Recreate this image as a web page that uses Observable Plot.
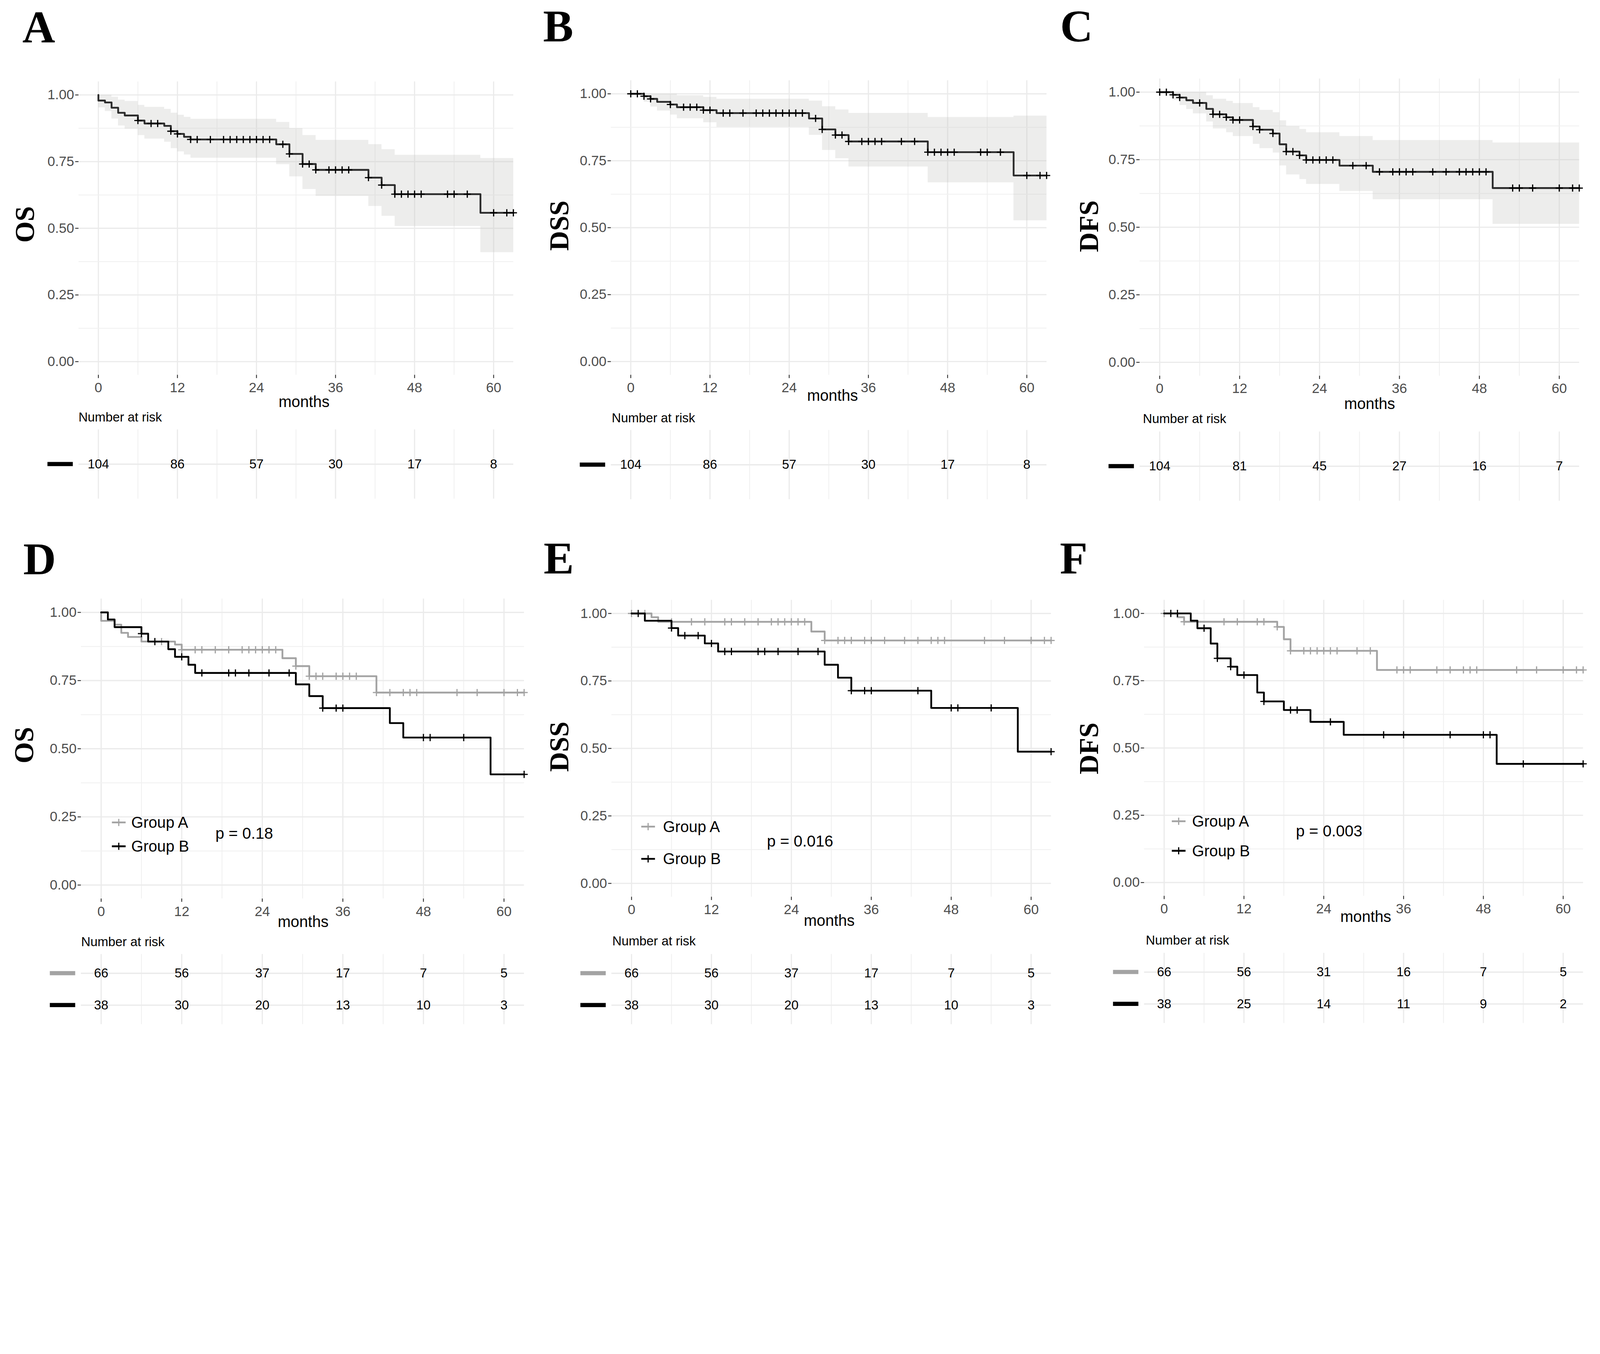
<!DOCTYPE html>
<html><head><meta charset="utf-8">
<script src="https://cdn.jsdelivr.net/npm/d3@7"></script>
<script src="https://cdn.jsdelivr.net/npm/@observablehq/plot@0.6"></script>
<style>
html,body{margin:0;padding:0;background:#fff;overflow:hidden}
#page{position:absolute;left:0;top:0;width:5362px;height:3466px;overflow:hidden;background:#fff;transform-origin:0 0}
#page > svg{position:absolute}
</style>
</head><body><div id="page"></div>
<script>
// ---------------- DATA ----------------
const followUpEnd = 63;
const riskTimes = [0, 12, 24, 36, 48, 60];
const xTicks = [0, 12, 24, 36, 48, 60];
const xMinor = [6, 18, 30, 42, 54];
const yTicks = [0, 0.25, 0.5, 0.75, 1];
const yMinor = [0.125, 0.375, 0.625, 0.875];

// Panel A: OS, all patients
const osTimes = [0, 1, 2, 3, 4, 6, 7, 10, 11, 12, 13, 14, 27, 29, 31, 33, 41, 43, 45, 58];
const osSurv  = [0.979, 0.972, 0.952, 0.933, 0.923, 0.904, 0.893, 0.884, 0.864, 0.854, 0.843, 0.833, 0.815, 0.779, 0.741, 0.719, 0.690, 0.662, 0.628, 0.558];
const osCensor = [6, 8, 9, 11, 12, 14, 15, 17, 19, 20, 21, 22, 23, 24, 25, 26, 28, 29, 31, 32, 33, 35, 36, 37, 38, 41, 43, 45, 46, 47, 48, 49, 53, 54, 56, 60, 62, 63];
const osUpperT = [0, 2, 3, 4, 6, 7, 10, 11, 12, 13, 14, 27, 29, 31, 33, 41, 43, 45, 58];
const osUpper  = [1.0, 0.993, 0.982, 0.977, 0.962, 0.955, 0.947, 0.933, 0.925, 0.917, 0.910, 0.898, 0.875, 0.849, 0.831, 0.815, 0.796, 0.775, 0.763];
const osLowerT = [0, 1, 2, 3, 4, 6, 7, 10, 11, 12, 13, 14, 27, 29, 31, 33, 41, 43, 45, 58];
const osLower  = [0.953, 0.939, 0.911, 0.885, 0.873, 0.849, 0.836, 0.824, 0.800, 0.788, 0.776, 0.764, 0.740, 0.694, 0.647, 0.621, 0.583, 0.546, 0.508, 0.410];
const osRisk = [104, 86, 57, 30, 17, 8];

// Panel B: DSS, all patients
const dssTimes = [2, 3, 4, 6, 7, 11, 13, 27, 29, 31, 33, 45, 58];
const dssSurv  = [0.991, 0.981, 0.970, 0.960, 0.950, 0.939, 0.928, 0.908, 0.867, 0.846, 0.822, 0.782, 0.695];
const dssCensor = [0, 1, 2, 3, 6, 8, 9, 10, 11, 12, 14, 15, 17, 19, 20, 21, 22, 23, 24, 25, 26, 28, 29, 31, 32, 33, 35, 36, 37, 38, 41, 43, 45, 46, 47, 48, 49, 53, 54, 56, 60, 62, 63];
const dssUpperT = [0, 7, 11, 13, 27, 29, 31, 33, 45, 58];
const dssUpper  = [1.0, 0.994, 0.988, 0.981, 0.974, 0.953, 0.941, 0.928, 0.913, 0.918];
const dssLowerT = [0, 2, 3, 4, 6, 7, 11, 13, 27, 29, 31, 33, 45, 58];
const dssLower  = [1.0, 0.970, 0.952, 0.937, 0.922, 0.908, 0.893, 0.876, 0.846, 0.790, 0.759, 0.728, 0.669, 0.527];
const dssRisk = [104, 86, 57, 30, 17, 8];

// Panel C: DFS, all patients
const dfsTimes = [2, 3, 4, 5, 7, 8, 10, 11, 14, 15, 17, 18, 19, 21, 22, 27, 32, 50];
const dfsSurv  = [0.990, 0.980, 0.970, 0.960, 0.938, 0.918, 0.907, 0.897, 0.873, 0.861, 0.847, 0.807, 0.780, 0.766, 0.749, 0.728, 0.705, 0.645];
const dfsCensor = [0, 1, 2, 3, 6, 8, 9, 10, 11, 12, 14, 15, 17, 19, 20, 21, 22, 23, 24, 25, 26, 29, 31, 33, 35, 36, 37, 38, 41, 43, 45, 46, 47, 48, 49, 53, 54, 56, 60, 62, 63];
const dfsUpperT = [0, 7, 8, 10, 11, 14, 15, 17, 18, 19, 21, 22, 27, 32, 50];
const dfsUpper  = [1.0, 0.988, 0.975, 0.967, 0.959, 0.944, 0.934, 0.925, 0.895, 0.874, 0.863, 0.851, 0.837, 0.822, 0.813];
const dfsLowerT = [0, 2, 3, 4, 5, 7, 8, 10, 11, 14, 15, 17, 18, 19, 21, 22, 27, 32, 50];
const dfsLower  = [1.0, 0.971, 0.952, 0.937, 0.921, 0.891, 0.865, 0.851, 0.837, 0.808, 0.792, 0.776, 0.728, 0.695, 0.678, 0.660, 0.634, 0.603, 0.512];
const dfsRisk = [104, 81, 45, 27, 16, 7];

// Panel D: OS by group
const groups = ["Group A", "Group B"];
const osATimes = [0, 2, 3, 4, 6, 11, 12, 27, 29, 31, 41];
const osASurv  = [0.969, 0.955, 0.925, 0.910, 0.893, 0.882, 0.863, 0.832, 0.803, 0.766, 0.706];
const osACensor = [8, 9, 12, 14, 15, 17, 19, 21, 22, 23, 24, 25, 26, 29, 31, 32, 33, 35, 36, 37, 38, 41, 43, 45, 46, 47, 53, 56, 60, 62, 63];
const osBTimes = [1, 2, 6, 7, 10, 11, 13, 14, 29, 31, 33, 43, 45, 58];
const osBSurv  = [0.974, 0.946, 0.922, 0.893, 0.865, 0.837, 0.808, 0.778, 0.736, 0.693, 0.649, 0.594, 0.541, 0.406];
const osBCensor = [6, 8, 12, 15, 19, 20, 22, 25, 28, 33, 35, 36, 48, 49, 54, 63];
const osARisk = [66, 56, 37, 17, 7, 5];
const osBRisk = [38, 30, 20, 13, 10, 3];

// Panel E: DSS by group
const dssATimes = [3, 4, 27, 29];
const dssASurv  = [0.986, 0.969, 0.933, 0.900];
const dssACensor = [0, 2, 6, 9, 11, 14, 15, 17, 19, 21, 22, 23, 24, 25, 26, 29, 31, 32, 33, 35, 36, 38, 41, 43, 45, 46, 47, 53, 56, 60, 62, 63];
const dssBTimes = [2, 6, 7, 11, 13, 29, 31, 33, 45, 58];
const dssBSurv  = [0.973, 0.946, 0.918, 0.889, 0.859, 0.810, 0.762, 0.714, 0.650, 0.488];
const dssBCensor = [1, 6, 8, 10, 12, 14, 15, 19, 20, 22, 25, 28, 33, 35, 36, 43, 48, 49, 54, 63];
const dssARisk = [66, 56, 37, 17, 7, 5];
const dssBRisk = [38, 30, 20, 13, 10, 3];

// Panel F: DFS by group
const dfsATimes = [2, 3, 17, 18, 19, 32];
const dfsASurv  = [0.986, 0.969, 0.950, 0.904, 0.861, 0.790];
const dfsACensor = [0, 3, 9, 11, 14, 15, 17, 19, 21, 22, 23, 24, 25, 26, 29, 31, 35, 36, 37, 41, 43, 45, 46, 47, 53, 56, 60, 62, 63];
const dfsBTimes = [4, 5, 7, 8, 10, 11, 14, 15, 18, 22, 27, 50];
const dfsBSurv  = [0.973, 0.945, 0.888, 0.833, 0.802, 0.771, 0.706, 0.673, 0.641, 0.597, 0.549, 0.441];
const dfsBCensor = [1, 2, 6, 8, 10, 12, 15, 19, 20, 25, 33, 36, 43, 48, 49, 54, 63];
const dfsARisk = [66, 56, 31, 16, 7, 5];
const dfsBRisk = [38, 25, 14, 11, 9, 2];

const pValues = ["p = 0.18", "p = 0.016", "p = 0.003"];

// ---------------- HELPERS ----------------
const SANS = "'Liberation Sans', Arial, Helvetica, sans-serif";
const SERIF = "'Liberation Serif', 'DejaVu Serif', 'Times New Roman', serif";
const GREY = "#a3a3a3";
function stepAt(ts, vs, t, init) { let v = init; for (let i = 0; i < ts.length; i++) if (ts[i] <= t + 1e-9) v = vs[i]; return v; }
function curveRows(ts, vs) { return [{t: 0, s: 1}, ...ts.map((t, i) => ({t, s: vs[i]})), {t: followUpEnd, s: vs[vs.length - 1]}]; }
function censorRows(cs, ts, vs) { return cs.map(t => ({t, s: stepAt(ts, vs, t, 1)})); }
function bandRows(lt, lv, ut, uv) {
  const ts = Array.from(new Set([...lt, ...ut, followUpEnd])).sort((a, b) => a - b);
  return ts.map(t => ({t, lo: stepAt(lt, lv, t, 1), hi: stepAt(ut, uv, t, 1)}));
}
const plusSymbol = {draw(ctx, size) { const r = Math.sqrt(size / Math.PI); ctx.moveTo(-r, 0); ctx.lineTo(r, 0); ctx.moveTo(0, -r); ctx.lineTo(0, r); }};

const page = document.getElementById("page");
function fit() {
  const s = Math.min(window.innerWidth / 5362, window.innerHeight / 3466);
  page.style.transform = `scale(${s})`;
}
fit();
window.addEventListener("resize", fit);

const ML = 130, MR = 12, MT = 12, MB = 80;
const LW = 6;

function gridMarks(withY) {
  const g = [
    Plot.gridX({ticks: xMinor, stroke: "#f1f1f1", strokeOpacity: 1, strokeWidth: 3}),
    Plot.gridX({ticks: xTicks, stroke: "#ebebeb", strokeOpacity: 1, strokeWidth: 4})
  ];
  if (withY) {
    g.push(Plot.gridY({ticks: yMinor, stroke: "#f1f1f1", strokeOpacity: 1, strokeWidth: 3}));
    g.push(Plot.gridY({ticks: yTicks, stroke: "#ebebeb", strokeOpacity: 1, strokeWidth: 4}));
  }
  return g;
}

function kmPanel(geo, curves, band) {
  const marks = gridMarks(true);
  if (band) marks.push(Plot.areaY(band, {x: "t", y1: "lo", y2: "hi", curve: "step-after", fill: "#c2c2bf", fillOpacity: 0.3}));
  for (const c of curves) {
    marks.push(Plot.line(c.rows, {x: "t", y: "s", curve: "step-after", stroke: c.color, strokeWidth: LW, strokeLinejoin: "round"}));
    marks.push(Plot.dot(c.censors, {x: "t", y: "s", symbol: plusSymbol, r: 12, fill: "none", stroke: c.mark, strokeWidth: 4}));
  }
  marks.push(Plot.axisX({ticks: xTicks, tickSize: 11, tickPadding: 14, fontSize: 46, fill: "#4d4d4d", stroke: "#333", strokeWidth: 3, label: null}));
  marks.push(Plot.axisY({ticks: yTicks, tickFormat: d3.format(".2f"), tickSize: 11, tickPadding: 4, fontSize: 46, fill: "#4d4d4d", stroke: "#333", strokeWidth: 3, label: null}));
  const svg = Plot.plot({
    width: geo.R - geo.L + ML + MR, height: geo.B - geo.T + MT + MB,
    marginLeft: ML, marginRight: MR, marginTop: MT, marginBottom: MB,
    x: {domain: [-3, 63]}, y: {domain: [-0.05, 1.05]},
    style: {fontFamily: SANS, background: "none", overflow: "visible"},
    marks
  });
  svg.style.left = (geo.L - ML) + "px"; svg.style.top = (geo.T - MT) + "px"; svg.style.maxWidth = "none";
  page.appendChild(svg);
}

function riskTable(geo, tab, rows) {
  const n = rows.length;
  const data = [];
  rows.forEach((r, i) => r.forEach((v, j) => data.push({t: riskTimes[j], row: i + 1, n: v})));
  const svg = Plot.plot({
    width: geo.R - geo.L + ML + MR, height: tab.B - tab.T,
    marginLeft: ML, marginRight: MR, marginTop: 0, marginBottom: 0,
    x: {domain: [-3, 63], axis: null}, y: {domain: [0.4, n + 0.6], reverse: true, axis: null},
    style: {fontFamily: SANS, background: "none", overflow: "visible"},
    marks: [
      ...gridMarks(false),
      Plot.gridY({ticks: d3.range(1, n + 1), stroke: "#ebebeb", strokeOpacity: 1, strokeWidth: 4.5}),
      Plot.text(data, {x: "t", y: "row", text: "n", fontSize: 43, fill: "black"})
    ]
  });
  svg.style.left = (geo.L - ML) + "px"; svg.style.top = tab.T + "px"; svg.style.maxWidth = "none";
  page.appendChild(svg);
}

// ---------------- LAYOUT ----------------
const G = {
  A: {L: 263, R: 1720, T: 273, B: 1256}, B: {L: 2047, R: 3507, T: 269, B: 1256}, C: {L: 3819, R: 5292, T: 263, B: 1259},
  D: {L: 271, R: 1756, T: 2006, B: 3011}, E: {L: 2049, R: 3522, T: 2010, B: 3005}, F: {L: 3834, R: 5305, T: 2010, B: 3002}
};
const TB = {A: {T: 1439, B: 1671}, B: {T: 1441, B: 1673}, C: {T: 1446, B: 1678}, D: {T: 3197, B: 3432}, E: {T: 3197, B: 3432}, F: {T: 3193, B: 3428}};

const dark = "#2b2b2b";
kmPanel(G.A, [{rows: curveRows(osTimes, osSurv), censors: censorRows(osCensor, osTimes, osSurv), color: dark, mark: "black"}], bandRows(osLowerT, osLower, osUpperT, osUpper));
kmPanel(G.B, [{rows: curveRows(dssTimes, dssSurv), censors: censorRows(dssCensor, dssTimes, dssSurv), color: dark, mark: "black"}], bandRows(dssLowerT, dssLower, dssUpperT, dssUpper));
kmPanel(G.C, [{rows: curveRows(dfsTimes, dfsSurv), censors: censorRows(dfsCensor, dfsTimes, dfsSurv), color: dark, mark: "black"}], bandRows(dfsLowerT, dfsLower, dfsUpperT, dfsUpper));
kmPanel(G.D, [
  {rows: curveRows(osATimes, osASurv), censors: censorRows(osACensor, osATimes, osASurv), color: GREY, mark: GREY},
  {rows: curveRows(osBTimes, osBSurv), censors: censorRows(osBCensor, osBTimes, osBSurv), color: "black", mark: "black"}]);
kmPanel(G.E, [
  {rows: curveRows(dssATimes, dssASurv), censors: censorRows(dssACensor, dssATimes, dssASurv), color: GREY, mark: GREY},
  {rows: curveRows(dssBTimes, dssBSurv), censors: censorRows(dssBCensor, dssBTimes, dssBSurv), color: "black", mark: "black"}]);
kmPanel(G.F, [
  {rows: curveRows(dfsATimes, dfsASurv), censors: censorRows(dfsACensor, dfsATimes, dfsASurv), color: GREY, mark: GREY},
  {rows: curveRows(dfsBTimes, dfsBSurv), censors: censorRows(dfsBCensor, dfsBTimes, dfsBSurv), color: "black", mark: "black"}]);

riskTable(G.A, TB.A, [osRisk]);
riskTable(G.B, TB.B, [dssRisk]);
riskTable(G.C, TB.C, [dfsRisk]);
riskTable(G.D, TB.D, [osARisk, osBRisk]);
riskTable(G.E, TB.E, [dssARisk, dssBRisk]);
riskTable(G.F, TB.F, [dfsARisk, dfsBRisk]);

// ---------------- ANNOTATIONS ----------------
const ov = d3.select(page).append("svg").attr("width", 5362).attr("height", 3466).style("left", "0px").style("top", "0px").style("pointer-events", "none");
const letters = [["A", 75, 141], ["B", 1820, 139], ["C", 3553, 139], ["D", 78, 1925], ["E", 1822, 1922], ["F", 3552, 1922]];
letters.forEach(([t, x, y]) => ov.append("text").attr("x", x).attr("y", y).attr("font-family", SERIF).attr("font-weight", "bold").attr("font-size", 152).text(t));
const yTitles = [["OS", 82, 752], ["DSS", 1873, 756], ["DFS", 3649, 758], ["OS", 80, 2497], ["DSS", 1873, 2502], ["DFS", 3649, 2508]];
yTitles.forEach(([t, x, y]) => ov.append("text").attr("transform", `translate(${x},${y}) rotate(-90)`).attr("text-anchor", "middle").attr("dominant-baseline", "central").attr("font-family", SERIF).attr("font-weight", "bold").attr("font-size", 92).text(t));
const monthsPos = [[1019, 1364], [2790, 1343], [4590, 1370], [1016, 3106], [2779, 3102], [4577, 3090]];
monthsPos.forEach(([x, y]) => ov.append("text").attr("x", x).attr("y", y).attr("text-anchor", "middle").attr("font-family", SANS).attr("font-size", 52).text("months"));
const narPos = [[263, 1413], [2050, 1415], [3830, 1418], [272, 3170], [2052, 3168], [3840, 3165]];
narPos.forEach(([x, y]) => ov.append("text").attr("x", x).attr("y", y).attr("font-family", SANS).attr("font-size", 43).text("Number at risk"));
// risk-table strata keys
[["A", ["black"]], ["B", ["black"]], ["C", ["black"]], ["D", [GREY, "black"]], ["E", [GREY, "black"]], ["F", [GREY, "black"]]].forEach(([k, cols]) => {
  const geo = G[k], tab = TB[k], n = cols.length;
  cols.forEach((c, i) => {
    const cy = tab.T + (i + 0.6) / (n + 0.2) * (tab.B - tab.T);
    ov.append("rect").attr("x", geo.L - 104).attr("y", cy - 7).attr("width", 85).attr("height", 14).attr("fill", c);
  });
});
// in-panel legends
const legends = [
  {kx: 375, tx: 440, ys: [2756, 2836], p: [722, 2792], pv: pValues[0]},
  {kx: 2149, tx: 2222, ys: [2770, 2878], p: [2570, 2819], pv: pValues[1]},
  {kx: 3927, tx: 3995, ys: [2752, 2851], p: [4343, 2784], pv: pValues[2]}
];
legends.forEach(l => {
  [GREY, "black"].forEach((c, i) => {
    const y = l.ys[i];
    ov.append("line").attr("x1", l.kx).attr("x2", l.kx + 46).attr("y1", y).attr("y2", y).attr("stroke", c).attr("stroke-width", LW);
    ov.append("path").attr("d", `M${l.kx + 11},${y}h24M${l.kx + 23},${y - 12}v24`).attr("stroke", c).attr("stroke-width", 4).attr("fill", "none");
    ov.append("text").attr("x", l.tx).attr("y", y).attr("dominant-baseline", "central").attr("font-family", SANS).attr("font-size", 52).text(groups[i]);
  });
  ov.append("text").attr("x", l.p[0]).attr("y", l.p[1]).attr("dominant-baseline", "central").attr("font-family", SANS).attr("font-size", 53).text(l.pv);
});
</script></body></html>
